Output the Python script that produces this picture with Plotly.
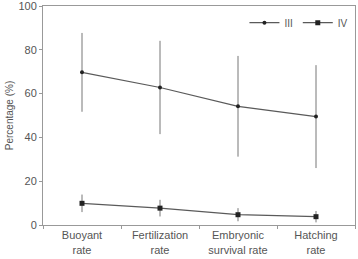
import plotly.graph_objects as go

categories = ["Buoyant<br>rate", "Fertilization<br>rate", "Embryonic<br>survival rate", "Hatching<br>rate"]
iii_mean = [69.7, 62.8, 54.2, 49.5]
iii_err = [18.0, 21.3, 23.0, 23.5]
iv_mean = [9.9, 7.7, 4.7, 3.8]
iv_err = [4.0, 3.8, 3.0, 2.6]
y_ticks = [0, 20, 40, 60, 80, 100]

xpos = list(range(len(categories)))
line_gray = "#5a5a5a"
err_gray = "#777777"
dark = "#222222"

fig = go.Figure()
fig.add_trace(go.Scatter(
    x=xpos, y=iii_mean, name="III", mode="lines+markers",
    line=dict(color=line_gray, width=1.2),
    marker=dict(symbol="circle", size=4, color=dark),
    error_y=dict(type="data", array=iii_err, color=err_gray, thickness=1, width=0),
))
fig.add_trace(go.Scatter(
    x=xpos, y=iv_mean, name="IV", mode="lines+markers",
    line=dict(color=line_gray, width=1.2),
    marker=dict(symbol="square", size=5, color=dark),
    error_y=dict(type="data", array=iv_err, color=err_gray, thickness=1, width=0),
))

font = dict(family="Liberation Sans, Arial, sans-serif", size=11, color="#555555")
fig.update_layout(
    width=358, height=259,
    margin=dict(l=43, r=3, t=6, b=29),
    paper_bgcolor="white", plot_bgcolor="white",
    font=font,
    showlegend=True,
    legend=dict(orientation="h", x=0.995, y=0.99, xanchor="right", yanchor="top",
                font=dict(size=10, color="#555555"), bgcolor="rgba(0,0,0,0)",
                itemwidth=30, tracegroupgap=0),
    xaxis=dict(range=[-0.5, len(categories) - 0.5], tickvals=xpos, ticktext=categories,
               ticks="", showgrid=False, zeroline=False,
               showline=True, linecolor="#999999", linewidth=1, mirror=True,
               minor=dict(tick0=0.5, dtick=1, ticks="outside", ticklen=3, tickcolor="#999999"),
               ticklabeloverflow="allow",
               tickfont=dict(size=11, color="#555555")),
    yaxis=dict(range=[0, 100], tickvals=y_ticks, ticks="outside", ticklen=3, tickcolor="#999999",
               showgrid=False, zeroline=False,
               showline=True, linecolor="#999999", linewidth=1, mirror=True,
               ticklabeloverflow="allow", automargin=False,
               title=dict(text="Percentage (%)", font=dict(size=10, color="#555555"), standoff=2),
               tickfont=dict(size=11, color="#555555")),
)
fig.write_html("out.html")
